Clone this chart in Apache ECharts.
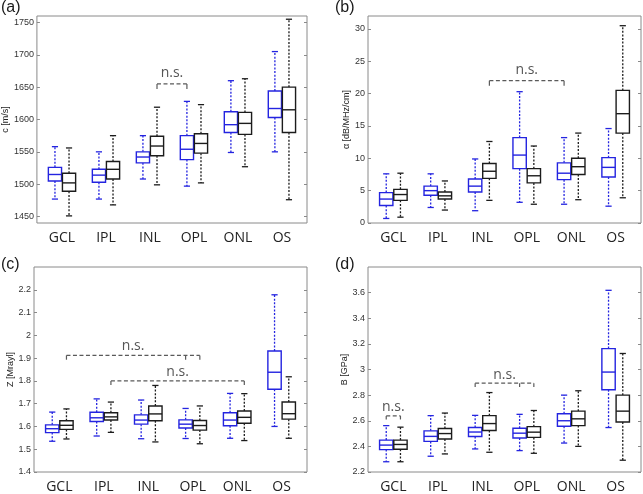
<!DOCTYPE html>
<html><head><meta charset="utf-8">
<script src="https://cdn.jsdelivr.net/npm/echarts@6/dist/echarts.min.js"></script>
<style>html,body{margin:0;padding:0;background:#fff}#c{width:643px;height:494px}</style>
</head><body><div id="c"></div>
<script>
const categories = ['GCL', 'IPL', 'INL', 'OPL', 'ONL', 'OS'];

// Each row: [lower whisker, Q1, median, Q3, upper whisker]
// (a) speed of sound c [m/s]
const cBlue = [
  [1477, 1505, 1515, 1526, 1558],
  [1477, 1503, 1514, 1523, 1550],
  [1508, 1533, 1542, 1550, 1575],
  [1497, 1538, 1554, 1575, 1628],
  [1549, 1580, 1592, 1612, 1660],
  [1550, 1603, 1617, 1644, 1705]
];
const cBlack = [
  [1451, 1489, 1502, 1517, 1556],
  [1468, 1508, 1523, 1535, 1575],
  [1499, 1544, 1559, 1574, 1619],
  [1502, 1548, 1563, 1578, 1623],
  [1527, 1577, 1594, 1611, 1663],
  [1476, 1580, 1615, 1650, 1755]
];
// (b) attenuation alpha [dB/MHz/cm]
const alphaBlue = [
  [0.7, 2.7, 3.7, 4.7, 7.6],
  [2.4, 4.3, 5.0, 5.7, 7.6],
  [1.9, 4.8, 5.7, 6.8, 9.9],
  [3.2, 8.4, 10.5, 13.2, 20.3],
  [2.9, 6.7, 7.7, 9.3, 13.2],
  [2.6, 7.1, 8.6, 10.1, 14.6]
];
const alphaBlack = [
  [0.9, 3.5, 4.4, 5.2, 7.7],
  [2.0, 3.7, 4.2, 4.8, 6.5],
  [3.5, 6.9, 8.0, 9.2, 12.6],
  [2.9, 6.2, 7.3, 8.4, 11.9],
  [3.6, 7.5, 8.7, 10.0, 13.9],
  [3.9, 13.9, 16.9, 20.5, 30.5]
];
// (c) impedance Z [Mrayl]
const zBlue = [
  [1.535, 1.573, 1.590, 1.607, 1.663],
  [1.558, 1.622, 1.638, 1.662, 1.721],
  [1.546, 1.610, 1.628, 1.651, 1.716],
  [1.547, 1.593, 1.610, 1.629, 1.679],
  [1.548, 1.603, 1.628, 1.660, 1.745],
  [1.600, 1.763, 1.838, 1.931, 2.178]
];
const zBlack = [
  [1.545, 1.587, 1.605, 1.625, 1.677],
  [1.574, 1.628, 1.642, 1.660, 1.707],
  [1.532, 1.625, 1.655, 1.690, 1.780],
  [1.524, 1.584, 1.604, 1.626, 1.690],
  [1.538, 1.614, 1.640, 1.668, 1.744],
  [1.548, 1.632, 1.656, 1.707, 1.818]
];
// (d) bulk modulus B [GPa]
const bBlue = [
  [2.280, 2.375, 2.410, 2.449, 2.562],
  [2.323, 2.439, 2.478, 2.521, 2.640],
  [2.380, 2.477, 2.512, 2.547, 2.642],
  [2.367, 2.465, 2.503, 2.542, 2.650],
  [2.426, 2.557, 2.600, 2.655, 2.800],
  [2.547, 2.842, 2.980, 3.163, 3.618]
];
const bBlack = [
  [2.280, 2.377, 2.415, 2.449, 2.550],
  [2.341, 2.457, 2.500, 2.539, 2.660],
  [2.354, 2.524, 2.578, 2.640, 2.820],
  [2.346, 2.470, 2.511, 2.554, 2.680],
  [2.400, 2.562, 2.615, 2.675, 2.834],
  [2.292, 2.590, 2.675, 2.800, 3.125]
];

// Axis ranges and tick labels
const cRange = [1440, 1760];
const cTicks = [1450, 1500, 1550, 1600, 1650, 1700, 1750];
const alphaRange = [0, 32];
const alphaTicks = [0, 5, 10, 15, 20, 25, 30];
const zRange = [1.4, 2.3];
const zTicks = [1.4, 1.5, 1.6, 1.7, 1.8, 1.9, 2, 2.1, 2.2];
const bRange = [2.2, 3.8];
const bTicks = [2.2, 2.4, 2.6, 2.8, 3, 3.2, 3.4, 3.6];

// "n.s." brackets: ends are [category, group(0 = blue, 1 = black)]
const cNS = [{ ends: [['INL', 1], ['OPL', 0]], y: 1655, drop: 1647, textY: 1672 }];
const alphaNS = [{ ends: [['INL', 1], ['ONL', 0]], y: 22, drop: 21.2, textY: 23.6 }];
const zNS = [
  { ends: [['GCL', 1], ['OPL', 0], ['OPL', 1]], y: 1.912, drop: 1.893, textY: 1.952 },
  { ends: [['IPL', 1], ['ONL', 1]], y: 1.800, drop: 1.782, textY: 1.840 }
];
const bNS = [
  { ends: [['GCL', 0], ['GCL', 1]], y: 2.638, drop: 2.610, textY: 2.710 },
  { ends: [['INL', 0], ['OPL', 0], ['OPL', 1]], y: 2.893, drop: 2.864, textY: 2.955 }
];

const panels = [
  { tag: '(a)', name: 'c [m/s]', blue: cBlue, black: cBlack, range: cRange, ticks: cTicks, ns: cNS },
  { tag: '(b)', name: 'α [dB/MHz/cm]', blue: alphaBlue, black: alphaBlack, range: alphaRange, ticks: alphaTicks, ns: alphaNS },
  { tag: '(c)', name: 'Z [Mrayl]', blue: zBlue, black: zBlack, range: zRange, ticks: zTicks, ns: zNS },
  { tag: '(d)', name: 'B [GPa]', blue: bBlue, black: bBlack, range: bRange, ticks: bTicks, ns: bNS }
];

// layout
const layout = [
  { left: 34, top: 16, nameGap: 22, tagX: 1, tagY: 0 },
  { left: 368, top: 16, nameGap: 14, tagX: 335, tagY: 0 },
  { left: 34, top: 267, nameGap: 17, tagX: 1, tagY: 257 },
  { left: 368, top: 267, nameGap: 14, tagX: 335, tagY: 257 }
];
const GRID_W = 273, GRID_H = 207;
const X_PAD = 0.57;
const GROUP_OFF = 0.16, BOX_HALF = 0.15, CAP_HALF = 0.07;
const BLUE = '#2424e0', BLACK = '#1c1c1c', FRAME = '#8a8a8a';

function groupX(name, g) {
  return categories.indexOf(name) + (g === 0 ? -GROUP_OFF : GROUP_OFF);
}

function boxRender(offset, color) {
  return function (params, api) {
    const xc = api.value(0) + offset;
    const pMin = api.coord([xc, api.value(1)]);
    const pQ1 = api.coord([xc, api.value(2)]);
    const pMed = api.coord([xc, api.value(3)]);
    const pQ3 = api.coord([xc, api.value(4)]);
    const pMax = api.coord([xc, api.value(5)]);
    const unit = api.size([1, 0])[0];
    const hw = unit * BOX_HALF, cw = unit * CAP_HALF;
    const x = pMed[0];
    const dash = { stroke: color, lineWidth: 1.3, lineDash: [2, 1.6] };
    const solid = { stroke: color, lineWidth: 1.3 };
    return {
      type: 'group',
      children: [
        { type: 'line', shape: { x1: x, y1: pQ3[1], x2: x, y2: pMax[1] }, style: dash },
        { type: 'line', shape: { x1: x, y1: pQ1[1], x2: x, y2: pMin[1] }, style: dash },
        { type: 'line', shape: { x1: x - cw, y1: pMax[1], x2: x + cw, y2: pMax[1] }, style: solid },
        { type: 'line', shape: { x1: x - cw, y1: pMin[1], x2: x + cw, y2: pMin[1] }, style: solid },
        { type: 'rect', shape: { x: x - hw, y: pQ3[1], width: 2 * hw, height: pQ1[1] - pQ3[1] },
          style: { stroke: color, fill: '#fff', lineWidth: 1.4 } },
        { type: 'line', shape: { x1: x - hw, y1: pMed[1], x2: x + hw, y2: pMed[1] }, style: { stroke: color, lineWidth: 1.4 } }
      ]
    };
  };
}

function nsRender(list) {
  return function (params, api) {
    const b = list[params.dataIndex];
    const xs = b.ends.map(e => groupX(e[0], e[1]));
    const xMin = Math.min(...xs), xMax = Math.max(...xs);
    const pL = api.coord([xMin, b.y]);
    const pR = api.coord([xMax, b.y]);
    const yDrop = api.coord([xMin, b.drop])[1];
    const pT = api.coord([(xMin + xMax) / 2, b.textY]);
    const st = { stroke: '#5a5a5a', lineWidth: 1.2, lineDash: [4, 2.5] };
    const children = [
      { type: 'line', shape: { x1: pL[0], y1: pL[1], x2: pR[0], y2: pR[1] }, style: st }
    ];
    xs.forEach(xv => {
      const p = api.coord([xv, b.y]);
      children.push({ type: 'line', shape: { x1: p[0], y1: p[1], x2: p[0], y2: yDrop }, style: { stroke: '#5a5a5a', lineWidth: 1.2 } });
    });
    children.push({
      type: 'text', x: pT[0], y: pT[1],
      style: { text: 'n.s.', fill: '#555', font: '14px "Open Sans"', align: 'center', verticalAlign: 'middle' }
    });
    return { type: 'group', children };
  };
}

const option = {
  animation: false,
  backgroundColor: '#fff',
  title: [], grid: [], xAxis: [], yAxis: [], series: []
};

panels.forEach((p, k) => {
  const L = layout[k];
  option.title.push({
    text: p.tag, left: L.tagX, top: L.tagY, padding: 0,
    textStyle: { fontSize: 16, fontWeight: 'normal', color: '#1a1a1a', fontFamily: 'Liberation Sans' }
  });
  option.grid.push({
    left: L.left, top: L.top, width: GRID_W, height: GRID_H,
    show: true, borderColor: FRAME, borderWidth: 1, backgroundColor: '#fff'
  });
  option.xAxis.push({
    type: 'value', gridIndex: k, min: -X_PAD, max: categories.length - 1 + X_PAD,
    axisLine: { show: false, onZero: false }, axisTick: { show: false }, splitLine: { show: false },
    axisLabel: {
      customValues: categories.map((c, i) => i),
      formatter: v => categories[Math.round(v)] || '',
      fontFamily: 'Open Sans', fontSize: 14, color: '#222', margin: 8
    }
  });
  const tickStyle = { show: true, inside: true, length: 3, lineStyle: { color: FRAME, width: 1 }, customValues: p.ticks };
  option.yAxis.push({
    type: 'value', gridIndex: k, min: p.range[0], max: p.range[1], position: 'left',
    name: p.name, nameLocation: 'middle', nameGap: L.nameGap,
    nameTextStyle: { fontFamily: 'Liberation Sans', fontSize: 9, color: '#222' },
    axisLine: { show: false, onZero: false }, splitLine: { show: false },
    axisTick: tickStyle,
    axisLabel: {
      customValues: p.ticks, formatter: v => String(v),
      fontFamily: 'Liberation Sans', fontSize: 9, color: '#333', margin: 3
    }
  });
  option.yAxis.push({
    type: 'value', gridIndex: k, min: p.range[0], max: p.range[1], position: 'right',
    axisLine: { show: false, onZero: false }, splitLine: { show: false },
    axisTick: tickStyle, axisLabel: { show: false }
  });
  const yIdx = 2 * k;
  option.series.push({
    type: 'custom', xAxisIndex: k, yAxisIndex: yIdx,
    renderItem: boxRender(-GROUP_OFF, BLUE),
    encode: { x: 0, y: [1, 2, 3, 4, 5] },
    data: p.blue.map((r, i) => [i].concat(r))
  });
  option.series.push({
    type: 'custom', xAxisIndex: k, yAxisIndex: yIdx,
    renderItem: boxRender(GROUP_OFF, BLACK),
    encode: { x: 0, y: [1, 2, 3, 4, 5] },
    data: p.black.map((r, i) => [i].concat(r))
  });
  option.series.push({
    type: 'custom', xAxisIndex: k, yAxisIndex: yIdx,
    renderItem: nsRender(p.ns),
    encode: { x: 0, y: 1 },
    data: p.ns.map(b => [groupX(b.ends[0][0], b.ends[0][1]), b.y])
  });
});

const chart = echarts.init(document.getElementById('c'), null, { renderer: 'canvas' });
chart.setOption(option);
</script>
</body></html>
